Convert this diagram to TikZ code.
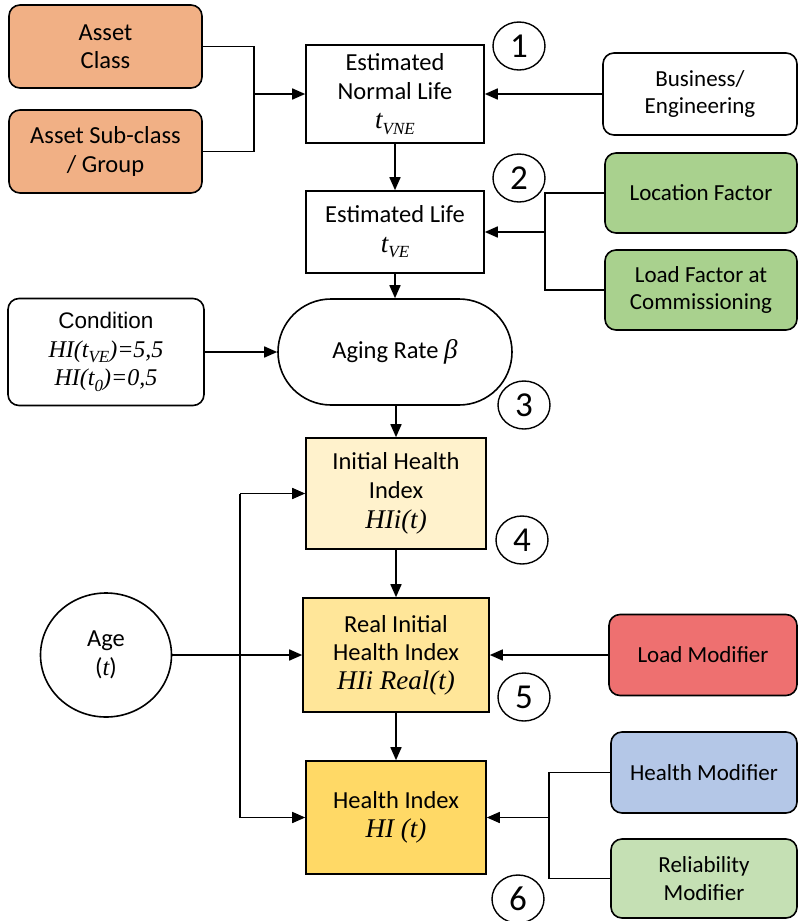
\documentclass[tikz,border=0pt]{standalone}
\usepackage{fontspec}
\setmainfont{Carlito}
\newfontfamily\serifit{Liberation Serif}
\newfontfamily\arialf{Liberation Sans}
\usetikzlibrary{arrows.meta,shapes.geometric}

% italic serif for the formula parts
\newcommand{\mi}[1]{{\serifit\itshape #1}}
\newcommand{\sbs}[1]{\raisebox{-0.22em}{\fontsize{17}{17}\selectfont\serifit\itshape #1}}
\newcommand{\bigmi}[1]{{\fontsize{27}{28}\selectfont\serifit\itshape #1}}

\definecolor{assetfill}{HTML}{F1B085}
\definecolor{greenfill}{HTML}{A9D18E}
\definecolor{hiilight}{HTML}{FFF2CC}
\definecolor{hiimid}{HTML}{FFE699}
\definecolor{hifull}{HTML}{FFD966}
\definecolor{loadred}{HTML}{EE7070}
\definecolor{healthblue}{HTML}{B4C7E7}
\definecolor{relgreen}{HTML}{C5E0B4}

\begin{document}
\begin{tikzpicture}[x=1pt,y=-1pt,
  every node/.style={font=\fontsize{24.5}{28.5}\selectfont},
  rbox/.style={draw, line width=1.6pt, rounded corners=11pt, inner sep=0pt, align=center},
  sbox/.style={draw, line width=1.6pt, inner sep=0pt, align=center},
  sidetext/.style={font=\fontsize{23}{27.5}\selectfont},
  num/.style={draw, line width=1.4pt, ellipse, minimum width=52pt, minimum height=48pt,
              inner sep=0pt, font=\fontsize{35}{35}\selectfont},
  conn/.style={line width=1.6pt},
  arr/.style={conn, -{Triangle[length=13pt,width=11pt]}},
]
\useasboundingbox (0,0) rectangle (798,921);

% inputs on the left
\node[rbox, fill=assetfill, minimum width=193pt, minimum height=83pt] (aclass) at (105.5,46.5) {Asset\\Class};
\node[rbox, fill=assetfill, minimum width=193pt, minimum height=83pt] (asub) at (105.5,151.5) {Asset Sub-class\\/ Group};
\node[rbox, minimum width=196pt, minimum height=107pt] (cond) at (106,352)
  {{\arialf\fontsize{22.5}{28}\selectfont Condition}\\
   {\fontsize{24}{27}\selectfont\mi{HI(t\sbs{VE})=5,5}}\\
   {\fontsize{24}{27}\selectfont\mi{HI(t\sbs{0})=0,5}}};
\node[draw, line width=1.6pt, ellipse, minimum width=131pt, minimum height=124pt, inner sep=0pt, align=center] (age) at (106,655)
  {Age\\(\mi{t})};

% main chain
\node[sbox, minimum width=178pt, minimum height=98pt] (enl) at (395,94)
  {Estimated\\Normal Life\\[1pt]\bigmi{t}\sbs{VNE}};
\node[sbox, minimum width=178pt, minimum height=82pt] (el) at (395,232)
  {Estimated Life\\[1pt]\bigmi{t}\sbs{VE}};
\node[draw, line width=1.6pt, rounded corners=53pt, inner sep=0pt, minimum width=234pt, minimum height=106pt] (aging) at (395,352)
  {Aging Rate \bigmi{β}};
\node[sbox, fill=hiilight, minimum width=180pt, minimum height=111pt] (ihi) at (396,493.5)
  {Initial Health\\Index\\[2pt]\bigmi{HIi(t)}};
\node[sbox, fill=hiimid, minimum width=186pt, minimum height=114pt] (rhi) at (396,655)
  {Real Initial\\Health Index\\\bigmi{HIi Real(t)}};
\node[sbox, fill=hifull, minimum width=180pt, minimum height=113pt] (hi) at (396,817.5)
  {Health Index\\\bigmi{HI (t)}};

% inputs on the right
\node[rbox, sidetext, minimum width=194pt, minimum height=82pt] (bus) at (700,94) {Business/\\Engineering};
\node[rbox, sidetext, fill=greenfill, minimum width=192pt, minimum height=80pt] (loc) at (701,193) {Location Factor};
\node[rbox, sidetext, fill=greenfill, minimum width=192pt, minimum height=80pt] (loadf) at (701,290) {Load Factor at\\Commissioning};
\node[rbox, sidetext, fill=loadred, minimum width=188pt, minimum height=81pt] (lmod) at (703,655) {Load Modifier};
\node[rbox, sidetext, fill=healthblue, minimum width=186pt, minimum height=81pt] (hmod) at (704,772.5) {Health Modifier};
\node[rbox, sidetext, fill=relgreen, minimum width=186pt, minimum height=79pt] (rmod) at (704,878.5) {Reliability\\Modifier};

% step numbers
\node[num] (n1) at (519,46) {1};
\node[num] (n2) at (519,178) {2};
\node[num] (n3) at (524,405) {3};
\node[num] (n4) at (522,540) {4};
\node[num] (n5) at (524,697) {5};
\node[num] (n6) at (518,899) {6};

% connectors
\coordinate (bxa) at (254,0);
\coordinate (bxb) at (545,0);
\coordinate (bxc) at (549,0);
\coordinate (vx) at (240,0);

\draw[conn] (aclass.east) -| (bxa |- asub.east) -- (asub.east);
\draw[arr] (bxa |- enl.west) -- (enl.west);
\draw[arr] (bus.west) -- (enl.east);
\draw[arr] (enl.south) -- (el.north);

\draw[conn] (loc.west) -| (bxb |- loadf.west) -- (loadf.west);
\draw[arr] (bxb |- el.east) -- (el.east);
\draw[arr] (el.south) -- (aging.north -| el.south);
\draw[arr] (cond.east) -- (aging.west);
\draw[arr] (aging.south -| ihi.north) -- (ihi.north);
\draw[arr] (ihi.south) -- (rhi.north);
\draw[arr] (rhi.south) -- (hi.north);

\draw[conn] (vx |- ihi.west) -- (vx |- hi.west);
\draw[arr] (vx |- ihi.west) -- (ihi.west);
\draw[arr] (vx |- hi.west) -- (hi.west);
\draw[arr] (age.east) -- (rhi.west);

\draw[arr] (lmod.west) -- (rhi.east);
\draw[conn] (hmod.west) -| (bxc |- rmod.west) -- (rmod.west);
\draw[arr] (bxc |- hi.east) -- (hi.east);
\end{tikzpicture}
\end{document}
